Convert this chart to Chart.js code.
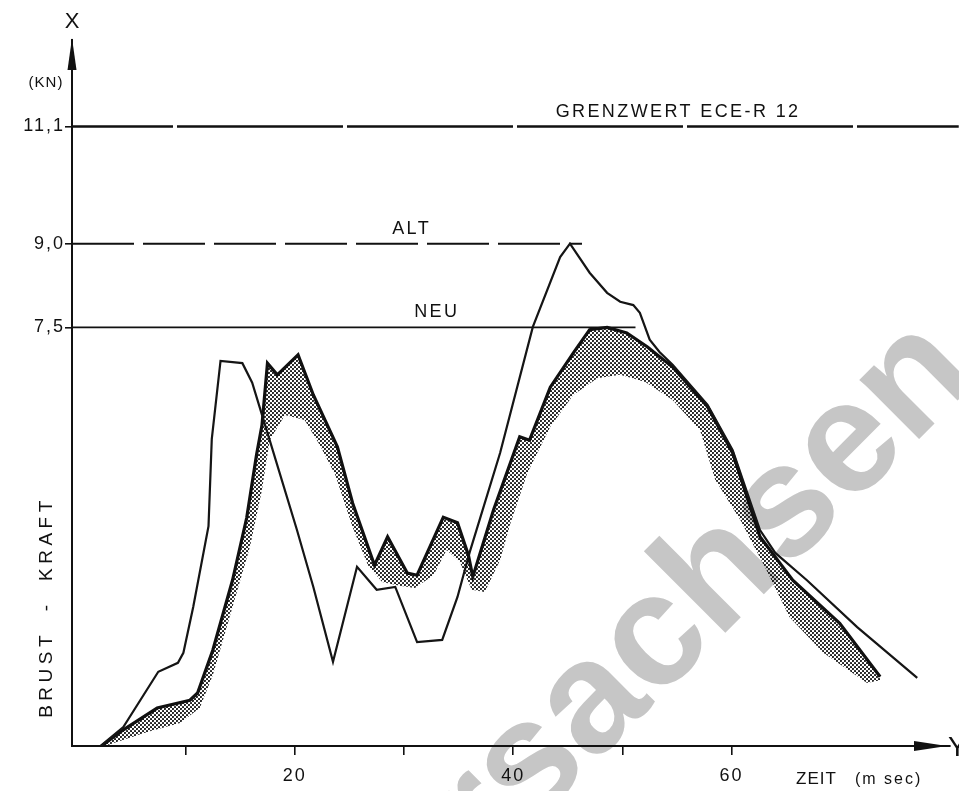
<!DOCTYPE html>
<html>
<head>
<meta charset="utf-8">
<script src="https://cdn.jsdelivr.net/npm/chart.js@4"></script>
<style>
html, body { margin: 0; padding: 0; background: #fff; }
canvas { display: block; }
</style>
</head>
<body>
<canvas id="c" width="959" height="791"></canvas>
<script>
// Brustkraft (kN) ueber Zeit (ms)
var altZeit = [2.2, 4.3, 7.5, 9.3, 9.8, 10.7, 12.1, 12.4, 13.2, 15.2, 16.1, 17.5, 20.2, 21.7, 23.5, 25.7, 27.5, 29.2, 31.2, 33.5, 34.9, 36.0, 38.8, 41.8, 44.3, 45.2, 47.0, 48.6, 49.8, 51.0, 51.6, 52.5, 53.4, 54.6, 57.8, 60.1, 62.6, 64.0, 66.9, 71.5, 77.0]
var altKraft = [0, 0.34, 1.33, 1.49, 1.67, 2.49, 3.94, 5.50, 6.90, 6.86, 6.51, 5.61, 3.87, 2.85, 1.51, 3.21, 2.80, 2.85, 1.86, 1.90, 2.67, 3.46, 5.25, 7.51, 8.76, 9.0, 8.48, 8.12, 7.96, 7.90, 7.76, 7.28, 7.06, 6.83, 6.11, 5.30, 3.87, 3.46, 2.97, 2.13, 1.22]

var neuZeit = [2.3, 4.3, 7.4, 10.4, 11.1, 12.5, 14.3, 15.6, 16.5, 17.0, 17.5, 18.4, 20.3, 21.7, 23.9, 25.3, 27.3, 28.5, 30.3, 31.2, 33.6, 34.9, 35.9, 36.3, 38.2, 40.6, 41.5, 43.4, 45.5, 47.0, 48.6, 50.4, 52.3, 54.6, 57.8, 60.1, 62.6, 65.6, 69.9, 73.6]
var neuKraft = [0, 0.29, 0.68, 0.82, 0.95, 1.72, 2.97, 4.09, 5.22, 5.75, 6.86, 6.65, 7.01, 6.29, 5.36, 4.35, 3.24, 3.75, 3.10, 3.06, 4.10, 4.00, 3.42, 3.03, 4.23, 5.54, 5.48, 6.43, 7.04, 7.46, 7.5, 7.40, 7.15, 6.79, 6.08, 5.25, 3.75, 2.97, 2.20, 1.24]

// untere Kante der gerasterten Flaeche unter NEU
var schattenZeit = [2.6, 6.5, 9.5, 11.3, 12.5, 14.3, 15.9, 17.0, 17.7, 19.1, 20.9, 22.3, 23.7, 25.3, 26.7, 28.0, 29.6, 31.0, 32.7, 33.9, 35.1, 36.2, 37.4, 38.8, 39.7, 41.3, 43.4, 45.5, 47.7, 49.8, 52.1, 54.6, 57.1, 58.5, 60.8, 63.2, 65.3, 68.4, 72.4, 73.6]
var schattenKraft = [0, 0.25, 0.41, 0.68, 1.27, 2.49, 3.57, 4.59, 5.48, 5.93, 5.84, 5.39, 4.86, 3.92, 3.24, 2.94, 2.87, 2.83, 3.06, 3.51, 3.30, 2.80, 2.76, 3.33, 3.96, 4.89, 5.72, 6.29, 6.59, 6.65, 6.52, 6.20, 5.66, 4.77, 4.05, 3.15, 2.31, 1.67, 1.13, 1.18]

var grenzWerte = [11.1, 9.0, 7.5]
var grenzNamen = ['GRENZWERT ECE-R 12', 'ALT', 'NEU']
var grenzEnde = [80.8, 46.3, 51.2]

var zeitTicks = [10, 20, 30, 40, 50, 60]
var zeitLabels = ['', '20', '', '40', '', '60']
var kraftTicks = [7.5, 9.0, 11.1]
var kraftLabels = ['7,5', '9,0', '11,1']

var FONT = '"Liberation Sans", Arial, sans-serif'

function punkte(xs, ys) {
	return xs.map(function (x, i) { return {x: x, y: ys[i]} })
}

var canvas = document.getElementById('c')
var ctx = canvas.getContext('2d')

// Punktraster (45 Grad) fuer die Schattierung
var kachel = document.createElement('canvas')
kachel.width = 4; kachel.height = 4
var kctx = kachel.getContext('2d')
kctx.fillStyle = '#111'
;[[1, 1], [3, 3]].forEach(function (p) {
	kctx.beginPath()
	kctx.arc(p[0], p[1], 1.05, 0, Math.PI * 2)
	kctx.fill()
})
var raster = ctx.createPattern(kachel, 'repeat')

var beschriftung = {
	id: 'beschriftung'
	, beforeDraw: function (chart) {
		var c = chart.ctx
		c.save()
		c.fillStyle = '#c6c6c6'
		c.font = 'bold 159px ' + FONT
		c.textAlign = 'center'
		c.textBaseline = 'middle'
		c.translate(702, 594)
		c.rotate(-45 * Math.PI / 180)
		c.fillText('rsachsen', 0, 0)
		c.restore()
		// gesperrte Ziffern an den Achsen
		c.letterSpacing = '2px'
	}
	, beforeDatasetsDraw: function (chart) {
		chart.ctx.letterSpacing = '0px'
	}
	, afterDraw: function (chart) {
		var c = chart.ctx
		var a = chart.chartArea
		var xs = chart.scales.x, ys = chart.scales.y
		c.save()
		c.fillStyle = '#111'
		c.strokeStyle = '#111'

		// Pfeile
		c.beginPath()
		c.moveTo(a.left, a.top - 2)
		c.lineTo(a.left - 4.5, a.top + 30)
		c.lineTo(a.left + 4.5, a.top + 30)
		c.closePath()
		c.fill()
		c.beginPath()
		c.moveTo(a.right - 3, a.bottom)
		c.lineTo(a.right - 36, a.bottom - 5)
		c.lineTo(a.right - 36, a.bottom + 5)
		c.closePath()
		c.fill()

		c.textBaseline = 'alphabetic'
		c.textAlign = 'center'
		c.font = '22px ' + FONT
		c.fillText('X', a.left, 28)
		c.font = '15px ' + FONT
		c.letterSpacing = '1px'
		c.fillText('(KN)', 46, 87)
		c.letterSpacing = '0px'
		c.textAlign = 'left'
		c.font = '28px ' + FONT
		c.fillText('Y', a.right - 2, 756)

		c.font = '17px ' + FONT
		c.letterSpacing = '1px'
		c.fillText('ZEIT', 796, 784)
		c.font = '16px ' + FONT
		c.letterSpacing = '2px'
		c.fillText('(m sec)', 855, 784)

		// Namen der Grenzlinien
		var lagen = [55.1, 30.7, 33.0]
		c.textAlign = 'center'
		c.font = '18px ' + FONT
		c.letterSpacing = '2.4px'
		grenzNamen.forEach(function (n, i) {
			c.fillText(n, xs.getPixelForValue(lagen[i]), ys.getPixelForValue(grenzWerte[i]) - 10)
		})

		// Achsentitel
		c.translate(52, 607)
		c.rotate(-Math.PI / 2)
		c.font = '19px ' + FONT
		c.letterSpacing = '4.5px'
		c.fillText('BRUST  -  KRAFT', 0, 0)
		c.restore()
	}
}

new Chart(canvas, {
	type: 'line'
	, data: {
		datasets: [
			{ data: punkte(altZeit, altKraft), borderColor: '#151515', borderWidth: 2.2 }
			, { data: punkte(neuZeit, neuKraft), borderColor: '#111', borderWidth: 3.2, fill: '+1', backgroundColor: raster }
			, { data: punkte(schattenZeit, schattenKraft), borderWidth: 0, borderColor: 'rgba(0,0,0,0)' }
			, { data: punkte([-0.4, grenzEnde[0]], [grenzWerte[0], grenzWerte[0]]), borderColor: '#111', borderWidth: 2.6, borderDash: [166, 4], borderDashOffset: 65, clip: false }
			, { data: punkte([-0.4, grenzEnde[1]], [grenzWerte[1], grenzWerte[1]]), borderColor: '#111', borderWidth: 2, borderDash: [62, 9] }
			, { data: punkte([-0.4, grenzEnde[2]], [grenzWerte[2], grenzWerte[2]]), borderColor: '#111', borderWidth: 1.6 }
		]
	}
	, options: {
		responsive: false
		, animation: false
		, events: []
		, layout: { padding: { left: 0, top: 40, right: 9, bottom: 0 } }
		, elements: { point: { radius: 0 }, line: { tension: 0, fill: false } }
		, plugins: { legend: { display: false }, tooltip: { enabled: false } }
		, scales: {
			x: {
				type: 'linear', min: -0.4, max: 80
				, afterFit: function (s) { s.height = 45 }
				, afterBuildTicks: function (s) { s.ticks = zeitTicks.map(function (v) { return {value: v} }) }
				, ticks: { callback: function (v, i) { return zeitLabels[i] }, color: '#111', font: { family: FONT, size: 18 }, padding: 10, maxRotation: 0, autoSkip: false }
				, grid: { drawOnChartArea: false, drawTicks: true, tickLength: 9, color: '#111', lineWidth: 1.6 }
				, border: { display: true, color: '#111', width: 2 }
			}
			, y: {
				type: 'linear', min: 0, max: 12.65
				, afterFit: function (s) { s.width = 72 }
				, afterBuildTicks: function (s) { s.ticks = kraftTicks.map(function (v) { return {value: v} }) }
				, ticks: { callback: function (v, i) { return kraftLabels[i] }, color: '#111', font: { family: FONT, size: 18 }, padding: 0 }
				, grid: { drawOnChartArea: false, drawTicks: true, tickLength: 7, color: '#111', lineWidth: 1.6 }
				, border: { display: true, color: '#111', width: 2 }
			}
		}
	}
	, plugins: [beschriftung]
})
</script>
</body>
</html>
